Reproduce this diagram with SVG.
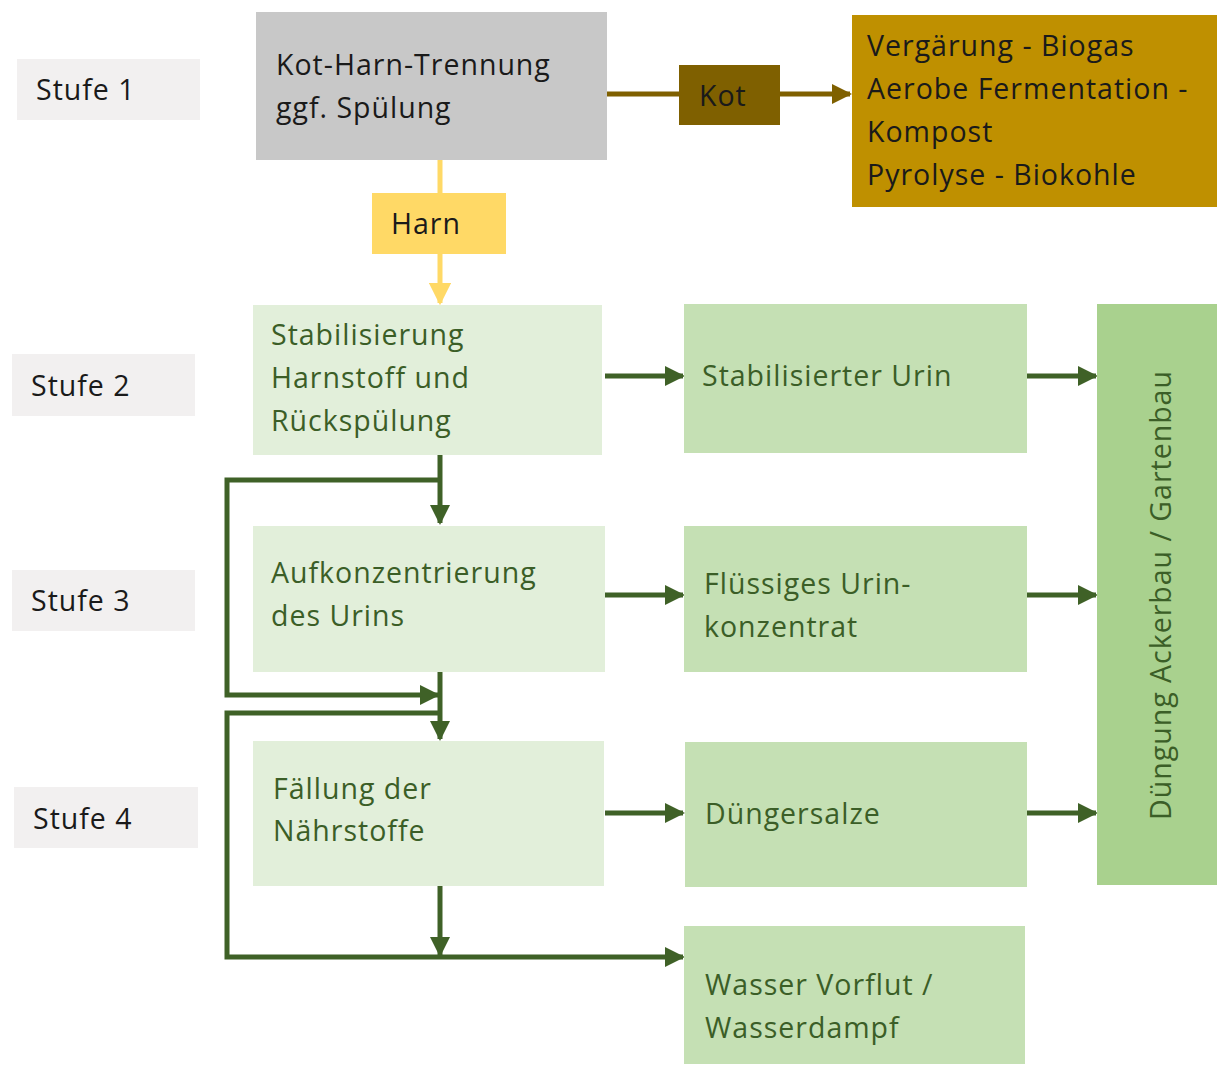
<svg xmlns="http://www.w3.org/2000/svg" width="1217" height="1066" viewBox="0 0 1217 1066">
<defs>
<style>
text{font-family:"Open Sans","Liberation Sans",sans-serif;font-size:28.5px;letter-spacing:1px}
.dk{fill:#1a1a1a}
.gt{fill:#3b5e27}
.stufe{fill:#f2f0f0}
.l1{fill:#e2efda}
.l2{fill:#c5e0b4}
.g{stroke:#3f6127;stroke-width:5;fill:none}
</style>
<marker id="ag" viewBox="0 0 10 10" refX="9" refY="5" markerWidth="4" markerHeight="4" markerUnits="strokeWidth" orient="auto"><path d="M0,0L10,5L0,10z" fill="#3f6127"/></marker>
<marker id="ay" viewBox="0 0 10 10" refX="9" refY="5" markerWidth="4.5" markerHeight="4.5" markerUnits="strokeWidth" orient="auto"><path d="M0,0L10,5L0,10z" fill="#ffd966"/></marker>
<marker id="ab" viewBox="0 0 10 10" refX="9" refY="5" markerWidth="4" markerHeight="4" markerUnits="strokeWidth" orient="auto"><path d="M0,0L10,5L0,10z" fill="#7f6000"/></marker>
</defs>
<rect width="1217" height="1066" fill="#fff"/>
<g id="connectors">
<path d="M607,94H850" stroke="#7f6000" stroke-width="5" fill="none" marker-end="url(#ab)"/>
<path d="M440,160V303" stroke="#ffd966" stroke-width="5" fill="none" marker-end="url(#ay)"/>
<path class="g" d="M605,376H683" marker-end="url(#ag)"/>
<path class="g" d="M1027,376H1096" marker-end="url(#ag)"/>
<path class="g" d="M605,595H683" marker-end="url(#ag)"/>
<path class="g" d="M1027,595H1096" marker-end="url(#ag)"/>
<path class="g" d="M605,813H683" marker-end="url(#ag)"/>
<path class="g" d="M1027,813H1096" marker-end="url(#ag)"/>
<path class="g" d="M440,455V523" marker-end="url(#ag)"/>
<path class="g" d="M440,480H227V695H438" marker-end="url(#ag)"/>
<path class="g" d="M440,672V739" marker-end="url(#ag)"/>
<path class="g" d="M440,713H227V957H683" marker-end="url(#ag)"/>
<path class="g" d="M440,886V955" marker-end="url(#ag)"/>
</g>
<g id="stufe1"><rect class="stufe" x="17" y="59" width="183" height="61"/><text class="dk" x="36" y="100">Stufe 1</text></g>
<g id="stufe2"><rect class="stufe" x="12" y="354" width="183" height="62"/><text class="dk" x="31" y="396">Stufe 2</text></g>
<g id="stufe3"><rect class="stufe" x="12" y="570" width="183" height="61"/><text class="dk" x="31" y="611">Stufe 3</text></g>
<g id="stufe4"><rect class="stufe" x="14" y="787" width="184" height="61"/><text class="dk" x="33" y="829">Stufe 4</text></g>
<g id="trennung"><rect x="256" y="12" width="351" height="148" fill="#c8c8c8"/><text class="dk" x="276" y="75">Kot-Harn-Trennung</text><text class="dk" x="276" y="118">ggf. Spülung</text></g>
<g id="kot"><rect x="679" y="65" width="101" height="60" fill="#7f6000"/><text class="dk" x="699" y="106">Kot</text></g>
<g id="verwertung"><rect x="852" y="15" width="365" height="192" fill="#bf9000"/><text class="dk" x="867" y="56">Vergärung - Biogas</text><text class="dk" x="867" y="99">Aerobe Fermentation -</text><text class="dk" x="867" y="142">Kompost</text><text class="dk" x="867" y="185">Pyrolyse - Biokohle</text></g>
<g id="harn"><rect x="372" y="193" width="134" height="61" fill="#ffd966"/><text class="dk" x="391" y="234">Harn</text></g>
<g id="stabilisierung"><rect class="l1" x="253" y="305" width="349" height="150"/><text class="gt" x="271" y="345">Stabilisierung</text><text class="gt" x="271" y="388">Harnstoff und</text><text class="gt" x="271" y="431">Rückspülung</text></g>
<g id="stabUrin"><rect class="l2" x="684" y="304" width="343" height="149"/><text class="gt" x="702" y="386">Stabilisierter Urin</text></g>
<g id="aufkonz"><rect class="l1" x="253" y="526" width="352" height="146"/><text class="gt" x="271" y="583">Aufkonzentrierung</text><text class="gt" x="271" y="626">des Urins</text></g>
<g id="fluessig"><rect class="l2" x="684" y="526" width="343" height="146"/><text class="gt" x="704" y="594">Flüssiges Urin-</text><text class="gt" x="704" y="637">konzentrat</text></g>
<g id="faellung"><rect class="l1" x="253" y="741" width="351" height="145"/><text class="gt" x="273" y="799">Fällung der</text><text class="gt" x="273" y="841">Nährstoffe</text></g>
<g id="duengersalze"><rect class="l2" x="685" y="742" width="342" height="145"/><text class="gt" x="705" y="824">Düngersalze</text></g>
<g id="wasser"><rect class="l2" x="684" y="926" width="341" height="138"/><text class="gt" x="705" y="995">Wasser Vorflut /</text><text class="gt" x="705" y="1038">Wasserdampf</text></g>
<g id="duengung"><rect x="1097" y="304" width="120" height="581" fill="#a9d18e"/><text class="gt" transform="translate(1171,595) rotate(-90)" text-anchor="middle">Düngung Ackerbau / Gartenbau</text></g>
</svg>
